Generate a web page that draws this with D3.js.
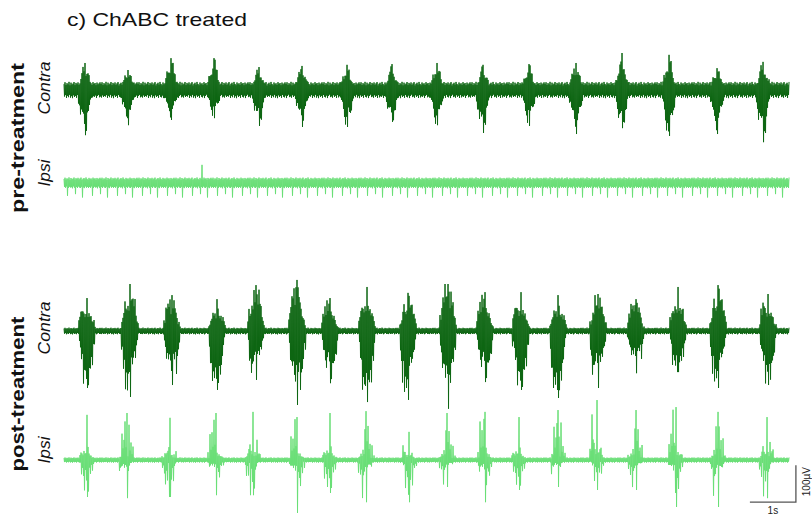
<!DOCTYPE html>
<html>
<head>
<meta charset="utf-8">
<script src="https://cdn.jsdelivr.net/npm/d3@7"></script>
<style>
  body { margin: 0; background: #fff; }
  text { font-family: "Liberation Sans", Arial, Helvetica, sans-serif; }
</style>
</head>
<body>
<svg id="chart" width="812" height="520"></svg>
<script>
// ---- Recording window ----
const duration = 15.76;   // seconds shown on every trace
const sampleRate = 92;    // drawn samples per second

// ---- pre-treatment, contralateral: burst times (s) and peak excursions (µV) ----
const preContraTimes = [0.46, 1.39, 2.33, 3.26, 4.24, 5.17, 6.15, 7.13, 8.11, 9.11, 10.11, 11.13, 12.13, 13.15, 14.20, 15.20];
const preContraUp    = [73, 54, 86, 86, 62, 65, 68, 70, 73, 68, 70, 73, 100, 95, 59, 76];
const preContraDown  = [122, 95, 81, 76, 97, 100, 100, 86, 95, 116, 97, 119, 103, 124, 119, 141];

// ---- pre-treatment, ipsilateral: no bursts, one isolated spike ----
const preIpsiTimes = [3.0];
const preIpsiUp    = [49];
const preIpsiDown  = [12];

// ---- post-treatment, contralateral ----
const postContraTimes = [0.50, 1.43, 2.35, 3.33, 4.17, 5.07, 5.78, 6.59, 7.48, 8.35, 9.15, 9.93, 10.74, 11.61, 12.43, 13.35, 14.22, 15.30];
const postContraUp    = [89, 127, 97, 86, 124, 138, 89, 119, 103, 127, 105, 105, 97, 100, 86, 119, 124, 100];
const postContraDown  = [154, 178, 146, 159, 132, 200, 141, 192, 186, 210, 138, 159, 181, 154, 114, 111, 154, 146];

// ---- post-treatment, ipsilateral ----
const postIpsiTimes = [0.50, 1.37, 2.30, 3.30, 4.11, 5.07, 5.78, 6.57, 7.50, 8.33, 9.15, 9.89, 10.74, 11.59, 12.43, 13.30, 14.22, 15.28];
const postIpsiUp    = [122, 127, 114, 127, 130, 116, 127, 132, 76, 127, 130, 116, 135, 162, 135, 143, 130, 116];
const postIpsiDown  = [100, 103, 100, 95, 95, 143, 89, 114, 114, 73, 114, 81, 73, 81, 81, 127, 127, 103];

// ---- background noise level of each channel (µV) ----
const noiseLevels = [22, 15, 9, 7];

// ---- hand-set spike textures (relative heights) ----
const texUp = [0.72,0.95,0.61,0.84,0.68,1.0,0.57,0.9,0.66,0.78,0.98,0.6,0.87,0.7,0.93,0.63,0.81,0.97,0.55,0.76,0.89,0.65,0.99,0.74,0.58,0.92,0.69,0.83,0.62,0.96,0.73,0.86,0.59,0.91,0.67,0.8,0.94];
const texDown = [0.8,0.62,0.97,0.7,0.88,0.58,0.93,0.75,1.0,0.64,0.85,0.71,0.95,0.6,0.82,0.9,0.67,0.99,0.73,0.56,0.87,0.78,0.94,0.63,0.84,0.69,0.98,0.61,0.9,0.76,0.83,0.66,0.96,0.72,0.59,0.89,0.79,0.92,0.65,0.86,0.74];
const texEcg = [0.7,0.85,0.6,2.3,0.9,0.65,0.8,0.75,0.95,0.6,0.85,2.0,0.7,0.9,0.62,0.8,0.88,0.66,2.6,0.78,0.92,0.6,0.84,0.72,0.9];
const texDense = [0.62,0.8,0.55,0.95,0.7,0.58,0.88,0.66,1.0,0.6,0.75,0.52,0.9,0.68,0.57,0.83,0.64,0.97,0.59,0.72,0.78];
const texBurst = [0.5,0.66,0.44,0.9,0.58,0.7,0.47,0.62,0.97,0.53,0.68,0.42,0.75,0.56,0.84,0.49,0.64,0.45,1.0,0.6,0.72,0.48,0.8,0.55,0.67,0.43,0.88,0.59,0.51,0.74,0.93];
const texSparse = [0.16,0.28,0.1,0.95,0.22,0.36,0.12,0.3,0.7,0.18,0.26,0.11,0.45,0.2,0.82,0.14,0.3,0.17,0.55,0.24,0.09,0.34,1.0,0.19,0.27,0.13,0.62];

// ---- burst envelopes across one burst (relative) ----
const envPeaked = [0.3,0.45,0.6,0.75,0.88,0.96,1.0,0.95,0.85,0.7,0.55,0.4,0.25];
const envBlock  = [0.35,0.65,0.85,0.95,1.0,0.92,1.0,0.95,0.9,0.82,0.68,0.45,0.25];
const envSpiky  = [0.3,0.55,0.8,0.95,1.0,0.9,1.0,0.85,0.75,0.6,0.45,0.3,0.15];
const envSingle = [1.0];

// ---- scale bar ----
const barTimes = [14.91, 15.91];   // 1 s
const barVolts = [-114, -14];      // 100 µV

const darkGreen = "#0d6612";
const lightGreen = "#69df76";

const svg = d3.select("#chart");

const x = d3.scaleLinear().domain([0, duration]).range([64, 789]);
const yFor = base => d3.scaleLinear().domain([-100, 100]).range([base + 37, base - 37]);

const channels = [
  { times: preContraTimes, up: preContraUp, down: preContraDown, noise: noiseLevels[0],
    tUp: texUp, tDown: texDown, tBurst: texDense, env: envPeaked, hw: 0.15, base: 90, color: darkGreen },
  { times: preIpsiTimes, up: preIpsiUp, down: preIpsiDown, noise: noiseLevels[1],
    tUp: texUp, tDown: texEcg, tBurst: texDense, env: envSingle, hw: 0.006, base: 183, color: lightGreen },
  { times: postContraTimes, up: postContraUp, down: postContraDown, noise: noiseLevels[2],
    tUp: texUp, tDown: texDown, tBurst: texBurst, env: envBlock, hw: 0.18, base: 331, color: darkGreen },
  { times: postIpsiTimes, up: postIpsiUp, down: postIpsiDown, noise: noiseLevels[3],
    tUp: texUp, tDown: texDown, tBurst: texSparse, env: envSpiky, hw: 0.17, base: 460, color: lightGreen }
];

// Alternating up/down samples: background noise, plus burst activity where present
function buildTrace(ch) {
  const n = Math.round(duration * sampleRate);
  const pts = [];
  for (let i = 0; i <= n; i++) {
    const t = i / sampleRate;
    const isUp = i % 2 === 0;
    const j = i >> 1;
    let mag = ch.noise * (isUp ? ch.tUp[j % ch.tUp.length] : ch.tDown[j % ch.tDown.length]);
    ch.times.forEach((bt, b) => {
      const amp = isUp ? ch.up[b] : ch.down[b];
      const c = Math.round(bt * sampleRate);
      if (i === c || i === c + 1) { mag = Math.max(mag, amp); return; }
      const off = t - bt;
      if (Math.abs(off) < ch.hw) {
        const k = Math.min(ch.env.length - 1, Math.floor((off + ch.hw) / (2 * ch.hw) * ch.env.length));
        mag = Math.max(mag, amp * ch.env[k] * ch.tBurst[i % ch.tBurst.length]);
      }
    });
    pts.push({ t, v: isUp ? mag : -mag });
  }
  return pts;
}

channels.forEach(ch => {
  const y = yFor(ch.base);
  const line = d3.line().x(d => x(d.t)).y(d => y(d.v));
  svg.append("path")
    .datum(buildTrace(ch))
    .attr("d", line)
    .attr("fill", "none")
    .attr("stroke", ch.color)
    .attr("stroke-width", 1)
    .attr("stroke-linejoin", "miter");
});

// Scale bar, in the bottom channel's units
const yBar = yFor(channels[3].base);
svg.append("path")
  .attr("d", `M${x(barTimes[0])},${yBar(barVolts[0])} H${x(barTimes[1])} V${yBar(barVolts[1])}`)
  .attr("fill", "none")
  .attr("stroke", "#555")
  .attr("stroke-width", 1.3);
svg.append("text")
  .attr("x", x((barTimes[0] + barTimes[1]) / 2))
  .attr("y", yBar(barVolts[0]) + 12)
  .attr("text-anchor", "middle")
  .attr("font-size", 10)
  .attr("fill", "#222")
  .text("1s");
svg.append("text")
  .attr("transform", `translate(810,${(yBar(barVolts[0]) + yBar(barVolts[1])) / 2 - 2}) rotate(-90)`)
  .attr("text-anchor", "middle")
  .attr("font-size", 10)
  .attr("fill", "#222")
  .text("100µV");

// Title
svg.append("text")
  .attr("x", 67).attr("y", 26)
  .attr("font-size", 19)
  .attr("textLength", 180)
  .attr("lengthAdjust", "spacingAndGlyphs")
  .attr("fill", "#111")
  .text("c) ChABC treated");

// Row labels
const labels = [
  { text: "pre-treatment", x: 24, y: 138, len: 150, size: 19, weight: "bold", style: "normal" },
  { text: "Contra", x: 50, y: 88, len: 53, size: 16, weight: "normal", style: "italic" },
  { text: "Ipsi", x: 50, y: 173, len: 27, size: 16, weight: "normal", style: "italic" },
  { text: "post-treatment", x: 24, y: 394, len: 155, size: 19, weight: "bold", style: "normal" },
  { text: "Contra", x: 50, y: 328, len: 53, size: 16, weight: "normal", style: "italic" },
  { text: "Ipsi", x: 50, y: 450, len: 27, size: 16, weight: "normal", style: "italic" }
];
svg.selectAll("text.row")
  .data(labels)
  .enter().append("text")
  .attr("class", "row")
  .attr("transform", d => `translate(${d.x},${d.y}) rotate(-90)`)
  .attr("text-anchor", "middle")
  .attr("font-size", d => d.size)
  .attr("font-weight", d => d.weight)
  .attr("font-style", d => d.style)
  .attr("textLength", d => d.len)
  .attr("lengthAdjust", "spacingAndGlyphs")
  .attr("fill", "#111")
  .text(d => d.text);
</script>
</body>
</html>
